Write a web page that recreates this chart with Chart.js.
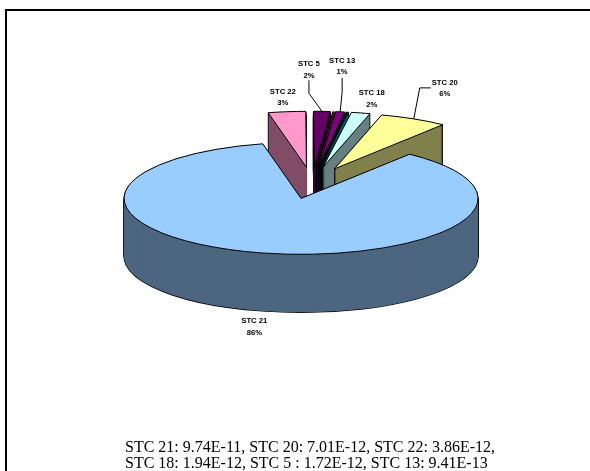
<!DOCTYPE html>
<html>
<head>
<meta charset="utf-8">
<title>STC pie</title>
<script src="https://cdn.jsdelivr.net/npm/chart.js@4"></script>
<style>
    html, body { margin: 0; padding: 0; background: #fff; overflow: hidden; }
    #frame { position: absolute; left: 5px; top: 9px; right: 0; bottom: -4px; border-left: 2px solid #000; border-top: 2px solid #000; }
    #wrap { position: absolute; left: 0; top: 0; width: 590px; height: 471px; }
</style>
</head>
<body>
<div id="frame"></div>
<div id="wrap"><canvas id="pie" width="590" height="471"></canvas></div>
<script>
// clockwise from the top of the pie, the big slice last so it paints over the others
const categories = ['STC 22', 'STC 5', 'STC 6', 'STC 13', 'STC 15', 'STC 17', 'STC 18', 'STC 20', 'STC 21'];
const values = [3.86e-12, 1.72e-12, 1.2e-13, 9.41e-13, 1.2e-13, 1.0e-13, 1.94e-12, 7.01e-12, 9.74e-11];
const topColors = ['#FF99CC', '#660066', '#FF8080', '#800080', '#008080', '#00CCFF', '#CCFFFF', '#FFFF99', '#99CCFF'];
const wallColors = ['#804D66', '#330033', '#804040', '#400040', '#004040', '#006680', '#668080', '#80804D', '#4D6680'];
const footnote = [
    'STC 21: 9.74E-11, STC 20: 7.01E-12, STC 22: 3.86E-12,',
    'STC 18: 1.94E-12, STC 5 : 1.72E-12, STC 13: 9.41E-13'
];

const PIE_X = 312;
const PIE_Y = 183;
const RADIUS = 177;
const EXPLODE = 50;
const SQUASH = 0.316;
const DEPTH = 58;

// label centre relative to the slice's rim point
const labelOffsets = {
    'STC 22': [-4, -20],
    'STC 5': [-13, -47],
    'STC 13': [2, -51],
    'STC 18': [11, -20],
    'STC 20': [31, -36],
    'STC 21': [-8, 68]
};
// leader bends, relative to the label centre
const leaders = {
    'STC 5': [[0, 29], [0, 16]],
    'STC 13': [[0, 31], [0, 17]],
    'STC 20': [[-25, 5], [-14, 5]]
};

const total = values.reduce((a, b) => a + b, 0);

// arcs get built in squashed space, but the line should keep an even width
function evenStroke(ctx) {
    const stroke = ctx.stroke;
    ctx.stroke = function () {
        ctx.save();
        ctx.setTransform(1, 0, 0, 1, 0, 0);
        stroke.call(ctx);
        ctx.restore();
    };
}

// one copy of a slice, pulled out along its middle angle and dropped by y
function drawLayer(ctx, arc, y, opts) {
    const saved = arc.options;
    const mid = (arc.startAngle + arc.endAngle) / 2;
    if (opts) arc.options = Object.assign({}, saved, opts);
    ctx.save();
    ctx.translate(PIE_X, PIE_Y + y);
    ctx.scale(1, SQUASH);
    ctx.translate(Math.cos(mid) * EXPLODE - arc.x, Math.sin(mid) * EXPLODE - arc.y);
    arc.draw(ctx);
    ctx.restore();
    arc.options = saved;
}

const pie3d = {
    id: 'pie3d',
    // walls and tops are all painted here, so the default dataset pass is skipped
    beforeDatasetsDraw(chart) {
        const ctx = chart.ctx;
        const arcs = chart.getDatasetMeta(0).data;
        evenStroke(ctx);
        arcs.forEach((arc, i) => {
            for (let y = DEPTH; y > 0; y--) {
                drawLayer(ctx, arc, y, { backgroundColor: '#000', borderColor: '#000', borderWidth: 1.2 });
            }
            for (let y = DEPTH; y > 0; y--) {
                drawLayer(ctx, arc, y, { backgroundColor: wallColors[i], borderWidth: 0 });
            }
        });
        arcs.forEach(arc => drawLayer(ctx, arc, 0));
        delete ctx.stroke;
        return false;
    },
    afterDraw(chart) {
        const ctx = chart.ctx;
        const arcs = chart.getDatasetMeta(0).data;
        ctx.save();
        ctx.fillStyle = '#000';
        ctx.strokeStyle = '#000';
        ctx.lineWidth = 1;
        ctx.font = 'bold 7.7px "Liberation Sans"';
        ctx.textAlign = 'center';
        ctx.textBaseline = 'middle';
        arcs.forEach((arc, i) => {
            const name = categories[i];
            if (!labelOffsets[name]) return;
            const mid = (arc.startAngle + arc.endAngle) / 2;
            const rimX = PIE_X + Math.cos(mid) * (RADIUS + EXPLODE);
            const rimY = PIE_Y + Math.sin(mid) * (RADIUS + EXPLODE) * SQUASH;
            const lx = rimX + labelOffsets[name][0];
            const ly = rimY + labelOffsets[name][1];
            ctx.fillText(name, lx, ly);
            ctx.fillText(Math.round(values[i] / total * 100) + '%', lx, ly + 11.5);
            if (leaders[name]) {
                ctx.beginPath();
                ctx.moveTo(rimX, rimY);
                leaders[name].forEach(p => ctx.lineTo(lx + p[0], ly + p[1]));
                ctx.stroke();
            }
        });
        ctx.font = '16px "Liberation Serif"';
        ctx.textAlign = 'left';
        ctx.textBaseline = 'alphabetic';
        footnote.forEach((line, i) => ctx.fillText(line, 125, 452 + i * 16));
        ctx.restore();
    }
};

new Chart(document.getElementById('pie'), {
    type: 'pie',
    data: {
        labels: categories,
        datasets: [{
            data: values,
            backgroundColor: topColors,
            borderColor: '#000',
            borderWidth: 1
        }]
    },
    options: {
        responsive: false,
        animation: false,
        radius: RADIUS,
        rotation: -12.5,
        layout: { padding: 0 },
        plugins: {
            legend: { display: false },
            tooltip: { enabled: false }
        }
    },
    plugins: [pie3d]
});
</script>
</body>
</html>
